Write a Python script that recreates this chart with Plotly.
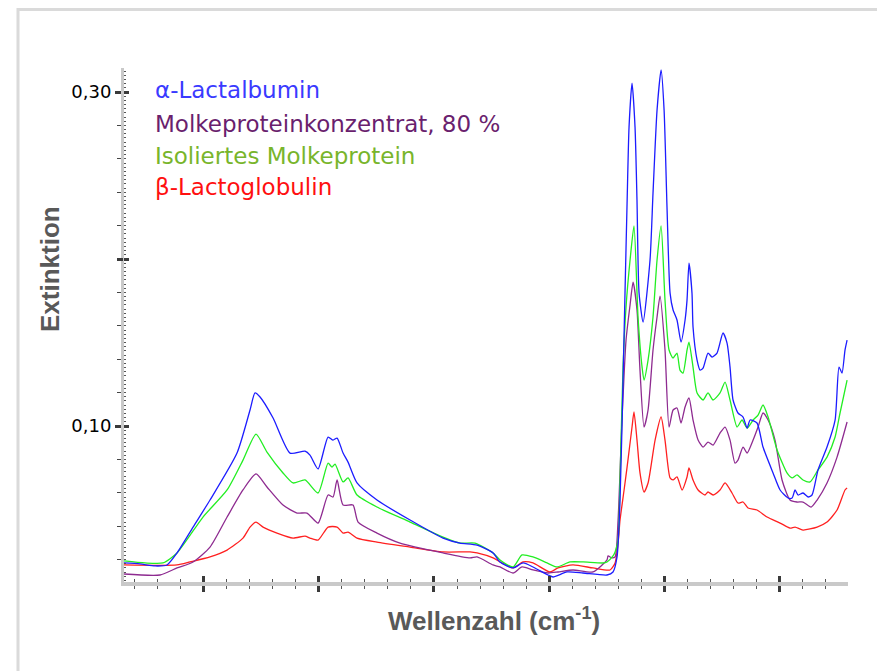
import plotly.graph_objects as go

# ---- data (x in arbitrary wavenumber units, y = Extinktion) ----
blue_x = [31.2, 45.1, 58.1, 68.5, 77.2, 91.1, 105.8, 129.2, 140.5, 144.8, 149.2, 160.5, 175.2, 188.2, 192.5, 199.5,
          208.2, 212.5, 216.0, 221.2, 225.5, 233.3, 250.6, 279.3, 307.9, 322.6, 337.4, 351.3, 357.3, 368.6, 377.3,
          385.9, 399.0, 403.3, 415.4, 429.3, 450.1, 455.3, 458.8, 461.4, 464.0, 465.7, 467.5, 469.2, 471.8, 474.4,
          476.1, 477.9, 481.4, 487.4, 490.0, 493.5, 497.0, 499.6, 502.2, 504.8, 507.4, 510.8, 514.3, 517.8, 519.5,
          521.2, 523.8, 524.7, 528.2, 530.8, 533.4, 537.7, 541.2, 545.5, 550.7, 554.2, 556.8, 559.4, 563.7, 568.1,
          571.6, 574.2, 580.2, 585.4, 594.1, 600.2, 607.1, 610.6, 613.2, 615.8, 620.1, 624.5, 627.9, 633.1, 640.9,
          647.9, 651.3, 653.9, 656.5, 658.3]
blue_y = [0.0180, 0.0174, 0.0162, 0.0168, 0.0240, 0.0395, 0.0557, 0.0838, 0.1096, 0.1198, 0.1174, 0.1048, 0.0838,
          0.0850, 0.0826, 0.0743, 0.0934, 0.0916, 0.0928, 0.0838, 0.0784, 0.0659, 0.0557, 0.0437, 0.0329, 0.0299,
          0.0287, 0.0240, 0.0186, 0.0150, 0.0180, 0.0156, 0.0108, 0.0096, 0.0126, 0.0120, 0.0108, 0.0126, 0.0216,
          0.0557, 0.1275, 0.1796, 0.2335, 0.2790, 0.3054, 0.2790, 0.2353, 0.1796, 0.1623, 0.1994, 0.2395, 0.2892,
          0.3132, 0.2892, 0.2293, 0.1796, 0.1695, 0.1635, 0.1503, 0.1635, 0.1754, 0.1976, 0.1796, 0.1593, 0.1395,
          0.1335, 0.1347, 0.1437, 0.1413, 0.1437, 0.1557, 0.1497, 0.1353, 0.1156, 0.1078, 0.1054, 0.0988, 0.1036,
          0.1018, 0.0874, 0.0719, 0.0617, 0.0569, 0.0569, 0.0617, 0.0587, 0.0599, 0.0575, 0.0587, 0.0737, 0.0874,
          0.1036, 0.1353, 0.1317, 0.1455, 0.1515]

green_x = [31.2, 49.4, 65.0, 77.2, 99.7, 120.6, 134.4, 145.7, 155.2, 169.1, 177.8, 188.2, 199.5, 208.2, 211.6, 214.2,
           221.2, 225.5, 233.3, 250.6, 279.3, 307.9, 322.6, 335.6, 351.3, 357.3, 368.6, 376.4, 385.9, 398.1, 406.8,
           418.0, 429.3, 446.7, 450.1, 455.3, 457.1, 459.7, 461.4, 464.0, 466.6, 470.1, 473.5, 477.0, 480.5, 482.2,
           485.7, 490.0, 493.5, 497.0, 500.4, 503.9, 507.4, 510.8, 513.4, 516.0, 519.5, 521.2, 524.7, 528.2, 533.4,
           537.7, 542.1, 548.1, 552.5, 556.8, 562.9, 567.2, 571.6, 576.8, 581.1, 585.4, 589.8, 597.6, 606.2, 610.6,
           614.9, 620.1, 626.2, 633.1, 640.9, 647.9, 652.2, 658.3]
green_y = [0.0192, 0.0180, 0.0180, 0.0240, 0.0455, 0.0617, 0.0796, 0.0952, 0.0844, 0.0719, 0.0659, 0.0677, 0.0599,
           0.0778, 0.0754, 0.0772, 0.0665, 0.0689, 0.0587, 0.0515, 0.0425, 0.0335, 0.0299, 0.0299, 0.0240, 0.0198,
           0.0156, 0.0228, 0.0216, 0.0180, 0.0156, 0.0186, 0.0186, 0.0180, 0.0186, 0.0222, 0.0246, 0.0317, 0.0677,
           0.1353, 0.1713, 0.1994, 0.2198, 0.1653, 0.1353, 0.1275, 0.1395, 0.1653, 0.1994, 0.2198, 0.1754, 0.1455,
           0.1407, 0.1437, 0.1335, 0.1317, 0.1455, 0.1503, 0.1353, 0.1198, 0.1156, 0.1198, 0.1156, 0.1198, 0.1263,
           0.1156, 0.0994, 0.1036, 0.0988, 0.1036, 0.1066, 0.1126, 0.1054, 0.0856, 0.0719, 0.0689, 0.0707, 0.0677,
           0.0665, 0.0737, 0.0814, 0.0934, 0.1078, 0.1275]

purple_x = [31.2, 62.4, 77.2, 91.1, 105.8, 120.6, 134.4, 145.7, 155.2, 169.1, 181.3, 189.9, 199.5, 208.2, 212.5,
            216.0, 221.2, 229.8, 234.2, 250.6, 270.6, 307.9, 331.3, 337.4, 351.3, 357.3, 368.6, 376.4, 385.9, 399.0,
            407.6, 420.6, 438.0, 450.1, 451.0, 454.5, 457.1, 459.7, 463.1, 466.6, 470.1, 472.7, 476.1, 478.7, 482.2,
            485.7, 490.0, 493.5, 496.1, 500.4, 503.9, 507.4, 510.8, 514.3, 517.8, 521.2, 524.7, 529.1, 533.4, 537.7,
            542.1, 548.1, 552.5, 556.8, 561.1, 563.7, 568.1, 571.6, 576.8, 581.1, 585.4, 589.8, 595.8, 601.9, 608.8,
            614.9, 620.1, 627.1, 632.3, 640.9, 649.6, 658.3]
purple_y = [0.0114, 0.0108, 0.0150, 0.0186, 0.0275, 0.0455, 0.0617, 0.0713, 0.0635, 0.0527, 0.0479, 0.0479, 0.0419,
            0.0587, 0.0575, 0.0677, 0.0527, 0.0527, 0.0425, 0.0359, 0.0299, 0.0240, 0.0210, 0.0216, 0.0168, 0.0156,
            0.0120, 0.0156, 0.0138, 0.0120, 0.0126, 0.0138, 0.0126, 0.0198, 0.0222, 0.0210, 0.0216, 0.0437, 0.1036,
            0.1515, 0.1725, 0.1862, 0.1695, 0.1335, 0.0994, 0.1096, 0.1455, 0.1653, 0.1778, 0.1455, 0.0994, 0.1096,
            0.1108, 0.1018, 0.1114, 0.1168, 0.1036, 0.0916, 0.0874, 0.0904, 0.0886, 0.0958, 0.0994, 0.0916, 0.0778,
            0.0796, 0.0874, 0.0838, 0.0916, 0.0994, 0.1078, 0.1036, 0.0916, 0.0677, 0.0557, 0.0545, 0.0545, 0.0515,
            0.0557, 0.0659, 0.0814, 0.1024]

red_x = [31.2, 77.2, 88.5, 105.8, 120.6, 134.4, 140.5, 145.7, 151.8, 163.9, 177.8, 188.2, 192.5, 199.5, 208.2, 216.0,
         221.2, 225.5, 233.3, 250.6, 279.3, 307.9, 331.3, 337.4, 351.3, 357.3, 368.6, 377.3, 385.9, 400.7, 407.6,
         420.6, 438.0, 452.7, 457.1, 459.7, 461.4, 464.9, 467.5, 471.8, 473.5, 476.1, 478.7, 482.2, 485.7, 491.8,
         497.0, 500.4, 504.8, 507.4, 510.8, 515.2, 519.5, 521.2, 524.7, 529.1, 535.1, 537.7, 542.1, 548.1, 552.5,
         558.5, 563.7, 568.1, 572.4, 580.2, 588.9, 600.2, 608.8, 613.2, 620.1, 632.3, 640.9, 649.6, 656.5, 658.3]
red_y = [0.0168, 0.0168, 0.0186, 0.0216, 0.0257, 0.0329, 0.0395, 0.0425, 0.0395, 0.0359, 0.0329, 0.0341, 0.0329,
         0.0317, 0.0395, 0.0395, 0.0359, 0.0365, 0.0329, 0.0305, 0.0275, 0.0246, 0.0246, 0.0240, 0.0210, 0.0186,
         0.0150, 0.0186, 0.0180, 0.0126, 0.0150, 0.0168, 0.0150, 0.0138, 0.0180, 0.0299, 0.0437, 0.0617, 0.0754,
         0.0994, 0.1084, 0.0916, 0.0719, 0.0605, 0.0659, 0.0916, 0.1054, 0.0916, 0.0689, 0.0677, 0.0695, 0.0617,
         0.0695, 0.0749, 0.0677, 0.0617, 0.0587, 0.0605, 0.0587, 0.0617, 0.0659, 0.0599, 0.0539, 0.0545, 0.0509,
         0.0497, 0.0455, 0.0419, 0.0389, 0.0395, 0.0377, 0.0395, 0.0425, 0.0497, 0.0617, 0.0629]

series_names = ["α-Lactalbumin", "Molkeproteinkonzentrat, 80 %", "Isoliertes Molkeprotein", "β-Lactoglobulin"]
x_major = [100, 200, 300, 400, 500, 600]
y_labeled = [0.10, 0.30]
y_labels = ["0,10", "0,30"]
y_unlabeled = [0.20]
y_major = [0.10, 0.20, 0.30]
x_title = "Wellenzahl (cm<sup>-1</sup>)"
y_title = "Extinktion"

X_RANGE = [31.2, 659.1]
Y_RANGE = [0.0066, 0.3144]

# plot area (page coords of reference): left 124, right 848, top 68, bottom 582
PL, PR, PT, PB = 124, 848, 68, 582
PW, PH = PR - PL, PB - PT
OFF = 8  # body margin of the html page


def px(xp):
    return (xp - PL) / PW


def py(yp):
    return (PB - yp) / PH


fig = go.Figure()
traces = [
    (red_x, red_y, "#ff2020", series_names[3]),
    (purple_x, purple_y, "#8e2b90", series_names[1]),
    (green_x, green_y, "#22ee22", series_names[2]),
    (blue_x, blue_y, "#1c1cff", series_names[0]),
]
for xs, ys, col, nm in traces:
    fig.add_trace(go.Scatter(x=xs, y=ys, mode="lines", name=nm,
                             line=dict(color=col, width=1.3, shape="spline", smoothing=0.6),
                             showlegend=False, hoverinfo="skip"))
# empty traces to activate the overlay axes (extra tick marks)
fig.add_trace(go.Scatter(x=[], y=[], xaxis="x2", yaxis="y2", showlegend=False))
fig.add_trace(go.Scatter(x=[], y=[], xaxis="x2", yaxis="y3", showlegend=False))

tick_dark = "#3a3a3a"
axis_gray = "#c9c9c9"

fig.update_layout(
    width=885, height=671,
    margin=dict(l=PL - OFF, r=885 - (PR - OFF), t=PT - OFF, b=671 - (PB - OFF)),
    paper_bgcolor="white", plot_bgcolor="white",
    xaxis=dict(range=X_RANGE, showline=True, linecolor=axis_gray, linewidth=4,
               showgrid=False, zeroline=False, showticklabels=False,
               ticks="outside", tickmode="array", tickvals=x_major, ticklen=6, tickwidth=3, tickcolor=tick_dark,
               minor=dict(ticks="outside", tickmode="linear", tick0=0, dtick=20, ticklen=3,
                          tickwidth=1, tickcolor="#555555", showgrid=False)),
    xaxis2=dict(range=X_RANGE, overlaying="x", anchor="y", side="bottom", showline=False,
                showgrid=False, zeroline=False, showticklabels=False,
                ticks="inside", tickmode="array", tickvals=x_major, ticklen=6, tickwidth=3, tickcolor=tick_dark,
                minor=dict(ticks="inside", tickmode="linear", tick0=0, dtick=20, ticklen=3,
                           tickwidth=1, tickcolor="#555555", showgrid=False)),
    yaxis=dict(range=Y_RANGE, showline=True, linecolor=axis_gray, linewidth=3,
               showgrid=False, zeroline=False,
               ticks="outside", tickmode="array", tickvals=y_labeled, ticktext=y_labels,
               ticklen=6, tickwidth=3, tickcolor=tick_dark,
               tickfont=dict(family="DejaVu Sans", size=18, color="black"),
               minor=dict(ticks="outside", tickmode="linear", tick0=0, dtick=0.02, ticklen=4,
                          tickwidth=1, tickcolor="#444444", showgrid=False)),
    yaxis2=dict(range=Y_RANGE, overlaying="y", anchor="x", side="left", showline=False,
                showgrid=False, zeroline=False, showticklabels=False,
                ticks="outside", tickmode="array", tickvals=y_unlabeled, ticklen=6, tickwidth=3,
                tickcolor=tick_dark),
    yaxis3=dict(range=Y_RANGE, overlaying="y", anchor="x", side="left", showline=False,
                showgrid=False, zeroline=False, showticklabels=False,
                ticks="inside", tickmode="array", tickvals=y_major, ticklen=5, tickwidth=3, tickcolor=tick_dark,
                minor=dict(ticks="inside", tickmode="linear", tick0=0, dtick=0.0025, ticklen=2,
                           tickwidth=1, tickcolor="#555555", showgrid=False)),
)

# outer light-gray frame (top edge kept just inside the visible page)
fig.add_shape(type="rect", xref="paper", yref="paper",
              x0=px(18), x1=px(882), y0=py(720), y1=py(9.5),
              line=dict(color="#dadada", width=3), fillcolor="rgba(0,0,0,0)", layer="below")

# legend as coloured text
legend_cols = ["#3a3aff", "#6a1f6e", "#78b52b", "#ff1010"]
legend_y_px = [90, 124, 156, 187]
for name, col, ypx in zip(series_names, legend_cols, legend_y_px):
    fig.add_annotation(text=name, xref="paper", yref="paper",
                       x=px(153), y=py(ypx),
                       xanchor="left", yanchor="middle", showarrow=False,
                       font=dict(family="DejaVu Sans", size=23, color=col))

# axis titles
fig.add_annotation(text="<b>" + y_title + "</b>", xref="paper", yref="paper",
                   x=px(50), y=py(269), textangle=-90,
                   xanchor="center", yanchor="middle", showarrow=False,
                   font=dict(family="Liberation Sans", size=26, color="#595959"))
fig.add_annotation(text="<b>" + x_title + "</b>", xref="paper", yref="paper",
                   x=px(494), y=py(619),
                   xanchor="center", yanchor="middle", showarrow=False,
                   font=dict(family="Liberation Sans", size=26, color="#595959"))

fig.write_html("out.html")
